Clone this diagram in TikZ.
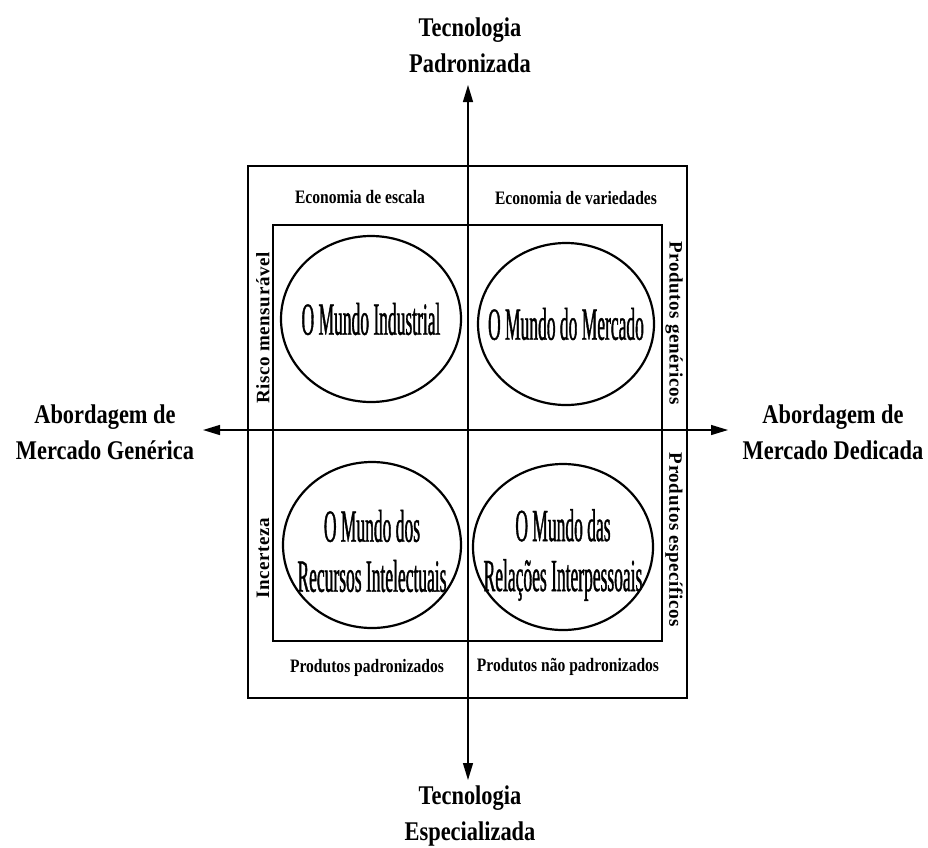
\documentclass[tikz,border=0pt]{standalone}
\usepackage{fontspec}
\setmainfont{Liberation Serif}
\newfontfamily\titlefont[FakeStretch=0.83]{Liberation Serif}
\newfontfamily\notefont[FakeStretch=0.82]{Liberation Serif}
\newfontfamily\sidefont[LetterSpace=3]{Liberation Serif}
\newfontfamily\worldfont[FakeStretch=0.38,FakeBold=0.8]{Liberation Serif}
\usepackage{tikz}
\usetikzlibrary{arrows.meta,shapes.geometric}
\tikzset{
  axis/.style={line width=1.3pt, {Triangle[length=17pt,width=10pt]}-{Triangle[length=17pt,width=10pt]}},
  frame/.style={line width=2.4pt},
  world/.style={draw, ellipse, line width=2.2pt, minimum width=180pt, minimum height=166pt, inner sep=0pt},
  worldtext/.style={font=\worldfont\fontsize{46}{50}\selectfont, align=center},
  title/.style={font=\titlefont\bfseries\fontsize{27}{36}\selectfont, align=center},
  note/.style={font=\notefont\bfseries\fontsize{19}{22}\selectfont},
  side/.style={font=\sidefont\bfseries\fontsize{19}{22}\selectfont}
}
\begin{document}
\begin{tikzpicture}[x=1pt, y=-1pt]
        \useasboundingbox (0,0) rectangle (928,847);
        \draw[frame] (248,166) rectangle (687,698);
        \draw[frame] (273,225) rectangle (662,641);
        \node[title] (padr) at (470,45) {Tecnologia\\Padronizada};
        \node[title] (espec) at (470,816) {Tecnologia\\Especializada};
        \node[title] (gen) at (105,432) {Abordagem de\\Mercado Genérica};
        \node[title] (ded) at (833,432) {Abordagem de\\Mercado Dedicada};
        \coordinate (ntip) at (468,85);
        \coordinate (stip) at (468,780);
        \coordinate (wtip) at (203,430);
        \coordinate (etip) at (728,430);
        \draw[axis] (ntip) -- (stip);
        \draw[axis] (wtip) -- (etip);
        \node[world] (ind) at (371,319) {};
        \node[world, minimum width=176pt, minimum height=162pt] (merc) at (566,324) {};
        \node[world, minimum width=178pt] (rec) at (372,545) {};
        \node[world] (rel) at (563,547) {};
        \node[worldtext] at (ind) {O Mundo Industrial};
        \node[worldtext] at (merc) {O Mundo do Mercado};
        \node[worldtext] at ([yshift=-6pt]rec) {O Mundo dos\\Recursos Intelectuais};
        \node[worldtext] at ([yshift=-8pt]rel) {O Mundo das\\Relações Interpessoais};
        \node[note] (escala) at (360,197) {Economia de escala};
        \node[note] (varied) at (576,198) {Economia de variedades};
        \node[note] (padron) at (367,668) {Produtos padronizados};
        \node[note] (naopad) at (568,667) {Produtos não padronizados};
        \node[side, rotate=90] (risco) at (263,328) {Risco mensurável};
        \node[side, rotate=90] (incer) at (263,558) {Incerteza};
        \node[side, rotate=-90] (gener) at (674,323) {Produtos genéricos};
        \node[side, rotate=-90] (espc) at (674,540) {Produtos específicos};
    \end{tikzpicture}
\end{document}
